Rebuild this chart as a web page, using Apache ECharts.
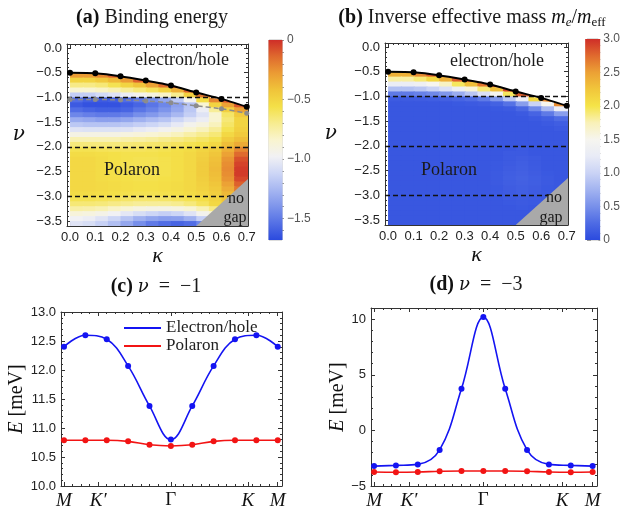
<!DOCTYPE html>
<html>
<head>
<meta charset="utf-8">
<script src="https://cdn.jsdelivr.net/npm/echarts@6/dist/echarts.min.js"></script>
<style>
html, body { margin: 0; padding: 0; background: #fff; }
#chart { width: 623px; height: 510px; }
</style>
</head>
<body>
<div id="chart"></div>
<script>
// ---------- data ----------
// (a)/(b): boundary of the bound state and the grey dashed line
var kappa = [0, 0.1, 0.2, 0.3, 0.4, 0.5, 0.6, 0.7];
var edgeNu = [-0.50, -0.51, -0.57, -0.66, -0.76, -0.90, -1.03, -1.19];
var grayNu = [-1.04, -1.04, -1.05, -1.07, -1.11, -1.17, -1.23, -1.32];
var dashedNu = [-1, -2, -3];
var noGapEdge = [[0.5, -3.6], [0.705, -2.65]];

// density maps: cell centres
var kappaCells = [0.025, 0.075, 0.125, 0.175, 0.225, 0.275, 0.325, 0.375, 0.425, 0.475, 0.525, 0.575, 0.625, 0.675];
var nuRows = [-0.45, -0.55, -0.65, -0.75, -0.85, -0.95, -1.05, -1.15, -1.25, -1.35, -1.45, -1.55, -1.65, -1.75, -1.85, -1.95,
  -2.05, -2.15, -2.25, -2.35, -2.45, -2.55, -2.65, -2.75, -2.85, -2.95, -3.05, -3.15, -3.25, -3.35, -3.45, -3.55];
var N = null;
var bindingRows = [
  [N, N, N, N, N, N, N, N, N, N, N, N, N, N],
  [-0.28, -0.28, -0.22, -0.12, -0.08, N, N, N, N, N, N, N, N, N],
  [-0.50, -0.50, -0.45, -0.38, -0.28, -0.12, -0.08, N, N, N, N, N, N, N],
  [-0.68, -0.68, -0.65, -0.58, -0.50, -0.42, -0.30, -0.15, -0.08, N, N, N, N, N],
  [-0.85, -0.85, -0.82, -0.78, -0.72, -0.66, -0.60, -0.50, -0.35, -0.12, N, N, N, N],
  [-1.15, -1.15, -1.10, -1.05, -1.00, -0.95, -0.90, -0.82, -0.70, -0.48, -0.18, N, N, N],
  [-1.55, -1.60, -1.62, -1.60, -1.55, -1.50, -1.42, -1.32, -1.18, -0.95, -0.55, -0.22, -0.10, N],
  [-1.62, -1.65, -1.65, -1.65, -1.62, -1.58, -1.52, -1.45, -1.35, -1.20, -0.85, -0.50, -0.30, -0.10],
  [-1.55, -1.58, -1.60, -1.60, -1.58, -1.52, -1.47, -1.40, -1.32, -1.18, -1.00, -0.72, -0.48, -0.30],
  [-1.45, -1.48, -1.50, -1.50, -1.48, -1.42, -1.38, -1.32, -1.25, -1.15, -1.05, -0.85, -0.62, -0.45],
  [-1.30, -1.32, -1.35, -1.35, -1.32, -1.28, -1.24, -1.20, -1.12, -1.05, -1.00, -0.85, -0.65, -0.50],
  [-1.18, -1.20, -1.20, -1.20, -1.18, -1.15, -1.12, -1.08, -1.02, -0.95, -0.90, -0.80, -0.62, -0.50],
  [-1.05, -1.06, -1.06, -1.06, -1.05, -1.02, -1.00, -0.96, -0.92, -0.86, -0.80, -0.72, -0.58, -0.48],
  [-0.92, -0.92, -0.92, -0.92, -0.90, -0.88, -0.86, -0.83, -0.80, -0.75, -0.70, -0.65, -0.52, -0.45],
  [-0.78, -0.78, -0.78, -0.78, -0.76, -0.75, -0.73, -0.70, -0.68, -0.65, -0.62, -0.58, -0.46, -0.40],
  [-0.66, -0.66, -0.66, -0.66, -0.65, -0.64, -0.63, -0.62, -0.60, -0.58, -0.56, -0.52, -0.40, -0.33],
  [-0.58, -0.58, -0.59, -0.60, -0.60, -0.60, -0.59, -0.58, -0.56, -0.54, -0.50, -0.46, -0.35, -0.22],
  [-0.54, -0.54, -0.55, -0.56, -0.57, -0.57, -0.57, -0.56, -0.55, -0.52, -0.48, -0.43, -0.30, -0.14],
  [-0.52, -0.52, -0.54, -0.56, -0.57, -0.58, -0.58, -0.57, -0.55, -0.52, -0.47, -0.41, -0.26, -0.08],
  [-0.52, -0.52, -0.54, -0.56, -0.58, -0.58, -0.58, -0.57, -0.55, -0.52, -0.46, -0.40, -0.24, -0.05],
  [-0.52, -0.52, -0.54, -0.56, -0.58, -0.58, -0.58, -0.57, -0.55, -0.52, -0.46, -0.39, -0.23, -0.03],
  [-0.52, -0.52, -0.54, -0.56, -0.57, -0.58, -0.58, -0.57, -0.55, -0.52, -0.46, -0.40, -0.24, -0.03],
  [-0.52, -0.52, -0.54, -0.55, -0.56, -0.57, -0.57, -0.56, -0.55, -0.52, -0.47, -0.41, -0.26, -0.06],
  [-0.52, -0.52, -0.53, -0.54, -0.55, -0.56, -0.56, -0.55, -0.54, -0.52, -0.48, -0.43, -0.30, -0.12],
  [-0.52, -0.52, -0.53, -0.54, -0.55, -0.56, -0.56, -0.55, -0.54, -0.52, -0.49, -0.45, -0.34, -0.18],
  [-0.54, -0.54, -0.55, -0.56, -0.57, -0.58, -0.58, -0.57, -0.56, -0.54, -0.51, -0.47, -0.38, -0.25],
  [-0.58, -0.58, -0.59, -0.60, -0.62, -0.63, -0.63, -0.62, -0.60, -0.58, -0.55, -0.50, -0.42, -0.30],
  [-0.65, -0.65, -0.66, -0.68, -0.70, -0.72, -0.72, -0.72, -0.70, -0.66, -0.60, -0.52, -0.45, -0.35],
  [-0.75, -0.76, -0.78, -0.82, -0.86, -0.90, -0.92, -0.92, -0.90, -0.85, -0.78, -0.68, -0.55, -0.45],
  [-0.88, -0.90, -0.93, -0.98, -1.03, -1.08, -1.12, -1.15, -1.12, -1.05, -0.95, -0.85, -0.70, -0.55],
  [-0.98, -1.00, -1.05, -1.12, -1.20, -1.28, -1.33, -1.36, -1.35, -1.28, -1.15, -1.00, -0.85, -0.70],
  [-1.05, -1.08, -1.14, -1.22, -1.32, -1.42, -1.50, -1.55, -1.58, -1.55, -1.45, -1.30, -1.10, -0.90]
];
var massRows = [
  [N, N, N, N, N, N, N, N, N, N, N, N, N, N],
  [2.4, 2.4, 2.6, 2.8, 2.9, N, N, N, N, N, N, N, N, N],
  [1.8, 1.8, 1.9, 2.1, 2.4, 2.8, 2.95, N, N, N, N, N, N, N],
  [1.3, 1.3, 1.35, 1.5, 1.7, 1.95, 2.3, 2.7, 2.95, N, N, N, N, N],
  [0.85, 0.85, 0.9, 1.0, 1.15, 1.35, 1.6, 1.9, 2.3, 2.9, N, N, N, N],
  [0.35, 0.35, 0.4, 0.45, 0.55, 0.7, 0.9, 1.15, 1.5, 1.95, 2.8, N, N, N],
  [0.13, 0.13, 0.14, 0.15, 0.17, 0.2, 0.25, 0.35, 0.55, 0.9, 1.3, 2.1, 2.6, N],
  [0.1, 0.1, 0.1, 0.1, 0.1, 0.11, 0.12, 0.14, 0.18, 0.3, 0.6, 1.0, 1.5, 2.6],
  [0.1, 0.1, 0.1, 0.1, 0.1, 0.1, 0.1, 0.1, 0.11, 0.13, 0.22, 0.45, 0.8, 1.3],
  [0.1, 0.1, 0.1, 0.1, 0.1, 0.1, 0.1, 0.1, 0.1, 0.1, 0.12, 0.2, 0.35, 0.6],
  [0.1, 0.1, 0.1, 0.1, 0.1, 0.1, 0.1, 0.1, 0.1, 0.1, 0.1, 0.12, 0.16, 0.25],
  [0.1, 0.1, 0.1, 0.1, 0.1, 0.1, 0.1, 0.1, 0.1, 0.1, 0.1, 0.1, 0.12, 0.15],
  [0.1, 0.1, 0.1, 0.1, 0.1, 0.1, 0.1, 0.1, 0.1, 0.1, 0.1, 0.1, 0.1, 0.12],
  [0.1, 0.1, 0.1, 0.1, 0.1, 0.1, 0.1, 0.1, 0.1, 0.1, 0.1, 0.1, 0.1, 0.1],
  [0.1, 0.1, 0.1, 0.1, 0.1, 0.1, 0.1, 0.1, 0.1, 0.1, 0.1, 0.1, 0.1, 0.1],
  [0.1, 0.1, 0.1, 0.1, 0.1, 0.1, 0.1, 0.1, 0.1, 0.1, 0.1, 0.1, 0.1, 0.1],
  [0.1, 0.1, 0.1, 0.1, 0.1, 0.1, 0.1, 0.1, 0.1, 0.1, 0.12, 0.1, 0.1, 0.1],
  [0.1, 0.1, 0.1, 0.1, 0.1, 0.1, 0.1, 0.1, 0.1, 0.12, 0.12, 0.1, 0.1, 0.1],
  [0.1, 0.1, 0.1, 0.1, 0.1, 0.1, 0.1, 0.1, 0.1, 0.12, 0.14, 0.12, 0.1, 0.1],
  [0.1, 0.1, 0.1, 0.1, 0.1, 0.1, 0.1, 0.1, 0.11, 0.13, 0.15, 0.12, 0.1, 0.1],
  [0.1, 0.1, 0.1, 0.1, 0.1, 0.1, 0.1, 0.1, 0.11, 0.14, 0.16, 0.13, 0.1, 0.1],
  [0.1, 0.1, 0.1, 0.1, 0.1, 0.1, 0.1, 0.1, 0.12, 0.15, 0.17, 0.14, 0.11, 0.1],
  [0.1, 0.1, 0.1, 0.1, 0.1, 0.1, 0.1, 0.1, 0.12, 0.16, 0.18, 0.15, 0.12, 0.1],
  [0.1, 0.1, 0.1, 0.1, 0.1, 0.1, 0.1, 0.1, 0.12, 0.15, 0.17, 0.15, 0.12, 0.1],
  [0.1, 0.1, 0.1, 0.1, 0.1, 0.1, 0.1, 0.1, 0.11, 0.14, 0.16, 0.14, 0.11, 0.1],
  [0.1, 0.1, 0.1, 0.1, 0.1, 0.1, 0.1, 0.1, 0.11, 0.13, 0.15, 0.13, 0.11, 0.1],
  [0.1, 0.1, 0.1, 0.1, 0.1, 0.1, 0.1, 0.1, 0.1, 0.12, 0.13, 0.12, 0.1, 0.1],
  [0.1, 0.1, 0.1, 0.1, 0.1, 0.1, 0.1, 0.1, 0.1, 0.11, 0.12, 0.11, 0.1, 0.1],
  [0.1, 0.1, 0.1, 0.1, 0.1, 0.1, 0.1, 0.1, 0.1, 0.1, 0.11, 0.1, 0.1, 0.1],
  [0.1, 0.1, 0.1, 0.1, 0.1, 0.1, 0.1, 0.1, 0.1, 0.1, 0.1, 0.1, 0.1, 0.1],
  [0.1, 0.1, 0.1, 0.1, 0.1, 0.1, 0.1, 0.1, 0.1, 0.1, 0.1, 0.1, 0.1, 0.1],
  [0.1, 0.1, 0.1, 0.1, 0.1, 0.1, 0.1, 0.1, 0.1, 0.1, 0.1, 0.1, 0.1, 0.1]
];

// colour scales
var bindingMin = -1.68, bindingMax = 0;
var bindingColors = ['#2b4ade', '#5470e5', '#7d94eb', '#a6b6f1', '#cdd6f6', '#f1f1f4', '#f9f4cf',
  '#f7ec90', '#f4e048', '#f0c43a', '#eb9c34', '#df6a2e', '#cf2e28'];
var massMin = 0, massMax = 3;
var massColors = ['#2b4ade', '#4e6be4', '#7890ea', '#a2b3f0', '#cad3f5', '#e8ebf6', '#f6f5ef',
  '#f9f1b8', '#f5e448', '#f1c63b', '#eca135', '#e06a2e', '#cf2e28'];

// (c)/(d): band along the path M-K'-Gamma-K-M
var pathIdx = [0, 1, 2, 3, 4, 5, 6, 7, 8, 9, 10];
var pathTicks = [0, 1.6, 5, 8.6, 10];
var pathNames = ['M', 'K\u2032', '\u0393', 'K', 'M'];
var ehNu1 = [12.40, 12.60, 12.53, 12.07, 11.38, 10.80, 11.38, 12.07, 12.53, 12.60, 12.40];
var polNu1 = [10.79, 10.79, 10.79, 10.77, 10.71, 10.69, 10.71, 10.77, 10.79, 10.79, 10.79];
var ehNu3 = [-3.21, -3.15, -3.06, -1.76, 3.74, 10.18, 3.74, -1.76, -3.06, -3.15, -3.21];
var polNu3 = [-3.74, -3.76, -3.74, -3.68, -3.65, -3.65, -3.65, -3.68, -3.74, -3.76, -3.74];

// tick labels
var kappaTicks = [0, 0.1, 0.2, 0.3, 0.4, 0.5, 0.6, 0.7];
var nuTicks = [0, -0.5, -1, -1.5, -2, -2.5, -3, -3.5];
var bindingBarTicks = [0, -0.5, -1, -1.5];
var massBarTicks = [0, 0.5, 1, 1.5, 2, 2.5, 3];
var eTicks1 = [10, 10.5, 11, 11.5, 12, 12.5, 13];
var eTicks3 = [-5, 0, 5, 10];

// ---------- helpers ----------
var serif = '"Liberation Serif", "DejaVu Serif", serif';
var greek = '"DejaVu Serif", serif';
var sans = '"Liberation Sans", Arial, sans-serif';
var frameColor = '#333';

function steps(a, b, d) {
  var out = [];
  for (var v = a; v <= b + 1e-9; v += d) out.push(Math.round(v * 1000) / 1000);
  return out;
}
function fmt(digits) {
  return function (v) {
    var s = Math.abs(v).toFixed(digits);
    return (v < -1e-9 ? '\u2212' : '') + s;
  };
}
function barFmt(v) {
  return Math.abs(v) < 1e-9 ? '0' : fmt(1)(v);
}

// four framed axes (major + minor ticks on both sides), returns index of the labelled one
function frame(list, dim, grid, min, max, majors, minors, label, extra) {
  var first = list.length;
  (dim === 'x' ? ['bottom', 'top'] : ['left', 'right']).forEach(function (pos, s) {
    [majors, minors].forEach(function (ticks, m) {
      var ax = {
        type: 'value', gridIndex: grid, min: min, max: max, position: pos,
        splitLine: { show: false },
        axisLine: { show: m === 0, onZero: false, lineStyle: { color: frameColor, width: 1 } },
        axisTick: { show: true, inside: true, length: m === 0 ? 4 : 2, customValues: ticks, lineStyle: { color: frameColor, width: 1 } },
        axisLabel: { show: false }
      };
      if (s === 0 && m === 0) {
        ax.axisLabel = label;
        Object.assign(ax, extra || {});
      }
      list.push(ax);
    });
  });
  return first;
}
function tickLabel(values, formatter) {
  return { show: true, customValues: values, formatter: formatter, fontFamily: sans, fontSize: 13, color: '#222', margin: 5 };
}

function edgeAt(k) {
  if (k <= kappa[0]) return edgeNu[0];
  for (var i = 1; i < kappa.length; i++) {
    if (k <= kappa[i]) {
      var t = (k - kappa[i - 1]) / (kappa[i] - kappa[i - 1]);
      return edgeNu[i - 1] + t * (edgeNu[i] - edgeNu[i - 1]);
    }
  }
  var n = kappa.length - 1;
  return edgeNu[n] + (k - kappa[n]) * (edgeNu[n] - edgeNu[n - 1]) / (kappa[n] - kappa[n - 1]);
}
// cell of the density map, cut off along the boundary line;
// each cell reaches a little into its lower / right neighbour so no seams show
function renderCell(params, api) {
  var k = api.value(0), n = api.value(1);
  var k0 = k - 0.025, k1 = k + 0.03, lo = n - 0.07, hi = n + 0.05;
  var t0 = Math.max(lo, Math.min(hi, edgeAt(k0)));
  var t1 = Math.max(lo, Math.min(hi, edgeAt(k1)));
  var pts = [[k0, lo], [k1, lo], [k1, t1], [k0, t0]].map(function (p) { return api.coord(p); });
  return { type: 'polygon', shape: { points: pts }, style: { fill: api.visual('color') } };
}
function cells(rows) {
  var out = [];
  nuRows.forEach(function (n, i) {
    kappaCells.forEach(function (k, j) {
      if (rows[i][j] !== null) out.push([k, n, rows[i][j]]);
    });
  });
  return out;
}
function pairs(xs, ys) {
  return xs.map(function (x, i) { return [x, ys[i]]; });
}
function gradient(colors) {
  var n = colors.length;
  return new echarts.graphic.LinearGradient(0, 0, 0, 1, colors.map(function (c, i) {
    return { offset: i / (n - 1), color: colors[n - 1 - i] };
  }));
}

// ---------- axes ----------
var xAxes = [], yAxes = [];
var nameNu = { name: '\u03bd', nameLocation: 'middle', nameRotate: 0,
  nameTextStyle: { fontFamily: greek, fontStyle: 'italic', fontSize: 20, color: '#111', padding: [0, 0, 16, 0] } };
var nameKappa = { name: '\u03ba', nameLocation: 'middle', nameGap: 13,
  nameTextStyle: { fontFamily: serif, fontStyle: 'italic', fontSize: 22, color: '#111' } };
var kMin = -0.012, kMax = 0.705, nMin = -3.6, nMax = 0.08;

// (a)
var axA = frame(xAxes, 'x', 0, kMin, kMax, kappaTicks, steps(0, 0.7, 0.02), tickLabel(kappaTicks, fmt(1)), nameKappa);
var ayA = frame(yAxes, 'y', 0, nMin, nMax, nuTicks, steps(-3.6, 0, 0.1), tickLabel(nuTicks, fmt(1)), Object.assign({ nameGap: 42 }, nameNu));
// (b)
var axB = frame(xAxes, 'x', 2, kMin, kMax, kappaTicks, steps(0, 0.7, 0.02), tickLabel(kappaTicks, fmt(1)), nameKappa);
var ayB = frame(yAxes, 'y', 2, nMin, nMax, nuTicks, steps(-3.6, 0, 0.1), tickLabel(nuTicks, fmt(1)), Object.assign({ nameGap: 48 }, nameNu));

// colour bars
function colorBarAxes(grid, min, max, majors, minors) {
  var xi = xAxes.length;
  xAxes.push({ type: 'value', gridIndex: grid, min: 0, max: 1, show: false });
  var yi = yAxes.length;
  [majors, minors].forEach(function (ticks, m) {
    yAxes.push({
      type: 'value', gridIndex: grid, min: min, max: max, position: 'right',
      axisLine: { show: false }, splitLine: { show: false },
      axisTick: { show: true, inside: false, length: m === 0 ? 4 : 2, customValues: ticks, lineStyle: { color: '#999' } },
      axisLabel: m === 0 ? { customValues: ticks, formatter: barFmt, fontFamily: sans, fontSize: 12, color: '#555', margin: 5 } : { show: false }
    });
  });
  return [xi, yi];
}
var cbA = colorBarAxes(1, bindingMin, bindingMax, bindingBarTicks, steps(-1.6, 0, 0.1));
var cbB = colorBarAxes(3, massMin, massMax, massBarTicks, steps(0, 3, 0.1));

// (c) and (d)
var pathLabel = {
  show: true, customValues: pathTicks, margin: 5,
  formatter: function (v) {
    var best = 0;
    pathTicks.forEach(function (t, i) { if (Math.abs(t - v) < Math.abs(pathTicks[best] - v)) best = i; });
    var nm = pathNames[best];
    return nm === '\u0393' ? '{r|' + nm + '}' : '{i|' + nm + '}';
  },
  rich: {
    i: { fontFamily: serif, fontStyle: 'italic', fontSize: 19, color: '#111' },
    r: { fontFamily: serif, fontSize: 19, color: '#111' }
  }
};
var nameE = function (gap) {
  return {
    name: '{i|E} [meV]', nameLocation: 'middle', nameRotate: 90, nameGap: gap,
    nameTextStyle: { fontFamily: serif, fontSize: 20, color: '#111',
      rich: { i: { fontFamily: serif, fontStyle: 'italic', fontSize: 20, color: '#111' } } }
  };
};
var axC = frame(xAxes, 'x', 4, -0.14, 10.2, pathTicks, steps(0, 10, 0.4), pathLabel);
var ayC = frame(yAxes, 'y', 4, 10, 13, eTicks1, steps(10, 13, 0.1), tickLabel(eTicks1, fmt(1)), nameE(32));
var axD = frame(xAxes, 'x', 5, -0.14, 10.2, pathTicks, steps(0, 10, 0.4), pathLabel);
var ayD = frame(yAxes, 'y', 5, -5, 11, eTicks3, steps(-5, 11, 1), tickLabel(eTicks3, fmt(0)), nameE(21));

// ---------- series ----------
function heatSeries(ax, ay, rows) {
  return {
    type: 'custom', xAxisIndex: ax, yAxisIndex: ay, renderItem: renderCell, data: cells(rows),
    clip: true, silent: true, z: 1,
    markLine: {
      silent: true, symbol: ['none', 'none'], label: { show: false },
      lineStyle: { color: '#111', type: [5, 3], width: 1.4 },
      data: dashedNu.map(function (v) { return { yAxis: v }; })
    }
  };
}
function noGapSeries(ax, ay) {
  return {
    type: 'line', xAxisIndex: ax, yAxisIndex: ay, data: noGapEdge, symbol: 'none', silent: true, z: 6,
    lineStyle: { width: 0 }, areaStyle: { color: '#a9a9a9', opacity: 1, origin: 'start' }
  };
}
function edgeSeries(ax, ay) {
  return {
    type: 'line', xAxisIndex: ax, yAxisIndex: ay, data: pairs(kappa, edgeNu), smooth: 0.2,
    symbol: 'circle', symbolSize: 6, z: 8, silent: true,
    itemStyle: { color: '#000' }, lineStyle: { color: '#000', width: 2 }
  };
}
function bandSeries(name, ax, ay, ys, color) {
  return {
    name: name, type: 'line', xAxisIndex: ax, yAxisIndex: ay, data: pairs(pathIdx, ys), smooth: 0.4,
    symbol: 'circle', symbolSize: 6, z: 5,
    itemStyle: { color: color }, lineStyle: { color: color, width: 1.6 }
  };
}

var series = [
  heatSeries(axA, ayA, bindingRows),
  noGapSeries(axA, ayA),
  {
    type: 'line', xAxisIndex: axA, yAxisIndex: ayA, data: pairs(kappa, grayNu), smooth: 0.2,
    symbol: 'circle', symbolSize: 5, z: 7, silent: true,
    itemStyle: { color: '#8c8c8c' }, lineStyle: { color: '#8c8c8c', width: 1.5, type: [5, 3] }
  },
  edgeSeries(axA, ayA),
  {
    type: 'bar', xAxisIndex: cbA[0], yAxisIndex: cbA[1], data: [[0.5, bindingMin]], barWidth: 14, silent: true,
    itemStyle: { color: gradient(bindingColors) }
  },
  heatSeries(axB, ayB, massRows),
  noGapSeries(axB, ayB),
  edgeSeries(axB, ayB),
  {
    type: 'bar', xAxisIndex: cbB[0], yAxisIndex: cbB[1], data: [[0.5, massMax]], barWidth: 15, silent: true,
    itemStyle: { color: gradient(massColors) }
  },
  bandSeries('Electron/hole', axC, ayC, ehNu1, '#1414f2'),
  bandSeries('Polaron', axC, ayC, polNu1, '#f21414'),
  bandSeries('Electron/hole', axD, ayD, ehNu3, '#1414f2'),
  bandSeries('Polaron', axD, ayD, polNu3, '#f21414')
];

// ---------- text ----------
var titleRich = {
  b: { fontFamily: serif, fontWeight: 'bold', fontSize: 20, fill: '#111' },
  i: { fontFamily: serif, fontStyle: 'italic', fontSize: 20, fill: '#111' },
  g: { fontFamily: greek, fontStyle: 'italic', fontSize: 18, fill: '#111' },
  s: { fontFamily: serif, fontSize: 13, fill: '#111', padding: [10, 0, 0, 0] },
  si: { fontFamily: serif, fontStyle: 'italic', fontSize: 13, fill: '#111', padding: [10, 0, 0, 0] }
};
function txt(x, y, text, size, rich) {
  return {
    type: 'text', x: x, y: y, z: 100, silent: true,
    style: { text: text, fontSize: size, fontFamily: serif, fill: '#1a1a1a', align: 'center', verticalAlign: 'middle', rich: rich || {} }
  };
}

var option = {
  animation: false,
  backgroundColor: '#fff',
  grid: [
    { left: 67, top: 44, width: 181, height: 182 },
    { left: 269, top: 40, width: 13, height: 200, show: true, borderColor: '#bbb', borderWidth: 1 },
    { left: 385, top: 43, width: 183, height: 182 },
    { left: 587, top: 39, width: 14, height: 201, show: true, borderColor: '#bbb', borderWidth: 1 },
    { left: 61, top: 312, width: 221, height: 177 },
    { left: 371, top: 308, width: 226, height: 181 }
  ],
  xAxis: xAxes,
  yAxis: yAxes,
  visualMap: [
    { type: 'continuous', show: false, seriesIndex: 0, dimension: 2, min: bindingMin, max: bindingMax, inRange: { color: bindingColors } },
    { type: 'continuous', show: false, seriesIndex: 5, dimension: 2, min: massMin, max: massMax, inRange: { color: massColors } }
  ],
  legend: {
    data: ['Electron/hole', 'Polaron'], left: 119, top: 314, orient: 'vertical',
    icon: 'rect', itemWidth: 37, itemHeight: 2, itemGap: 0,
    textStyle: { fontFamily: serif, fontSize: 17, color: '#222', lineHeight: 18 }
  },
  series: series,
  graphic: [
    txt(152, 18, '{b|(a)} Binding energy', 20, titleRich),
    txt(472, 18, '{b|(b)} Inverse effective mass {i|m}{si|e}/{i|m}{s|eff}', 20, titleRich),
    txt(156, 287, '{b|(c)} {g|\u03bd}\u2002=\u2002\u22121', 20, titleRich),
    txt(476, 285, '{b|(d)} {g|\u03bd}\u2002=\u2002\u22123', 20, titleRich),
    txt(182, 60, 'electron/hole', 18),
    txt(132, 170, 'Polaron', 18),
    txt(236, 199, 'no', 16),
    txt(235, 218, 'gap', 16),
    txt(497, 61, 'electron/hole', 18),
    txt(449, 170, 'Polaron', 18),
    txt(554, 198, 'no', 16),
    txt(551, 218, 'gap', 16)
  ]
};

var chart = echarts.init(document.getElementById('chart'), null, { renderer: 'canvas' });
chart.setOption(option);
</script>
</body>
</html>
